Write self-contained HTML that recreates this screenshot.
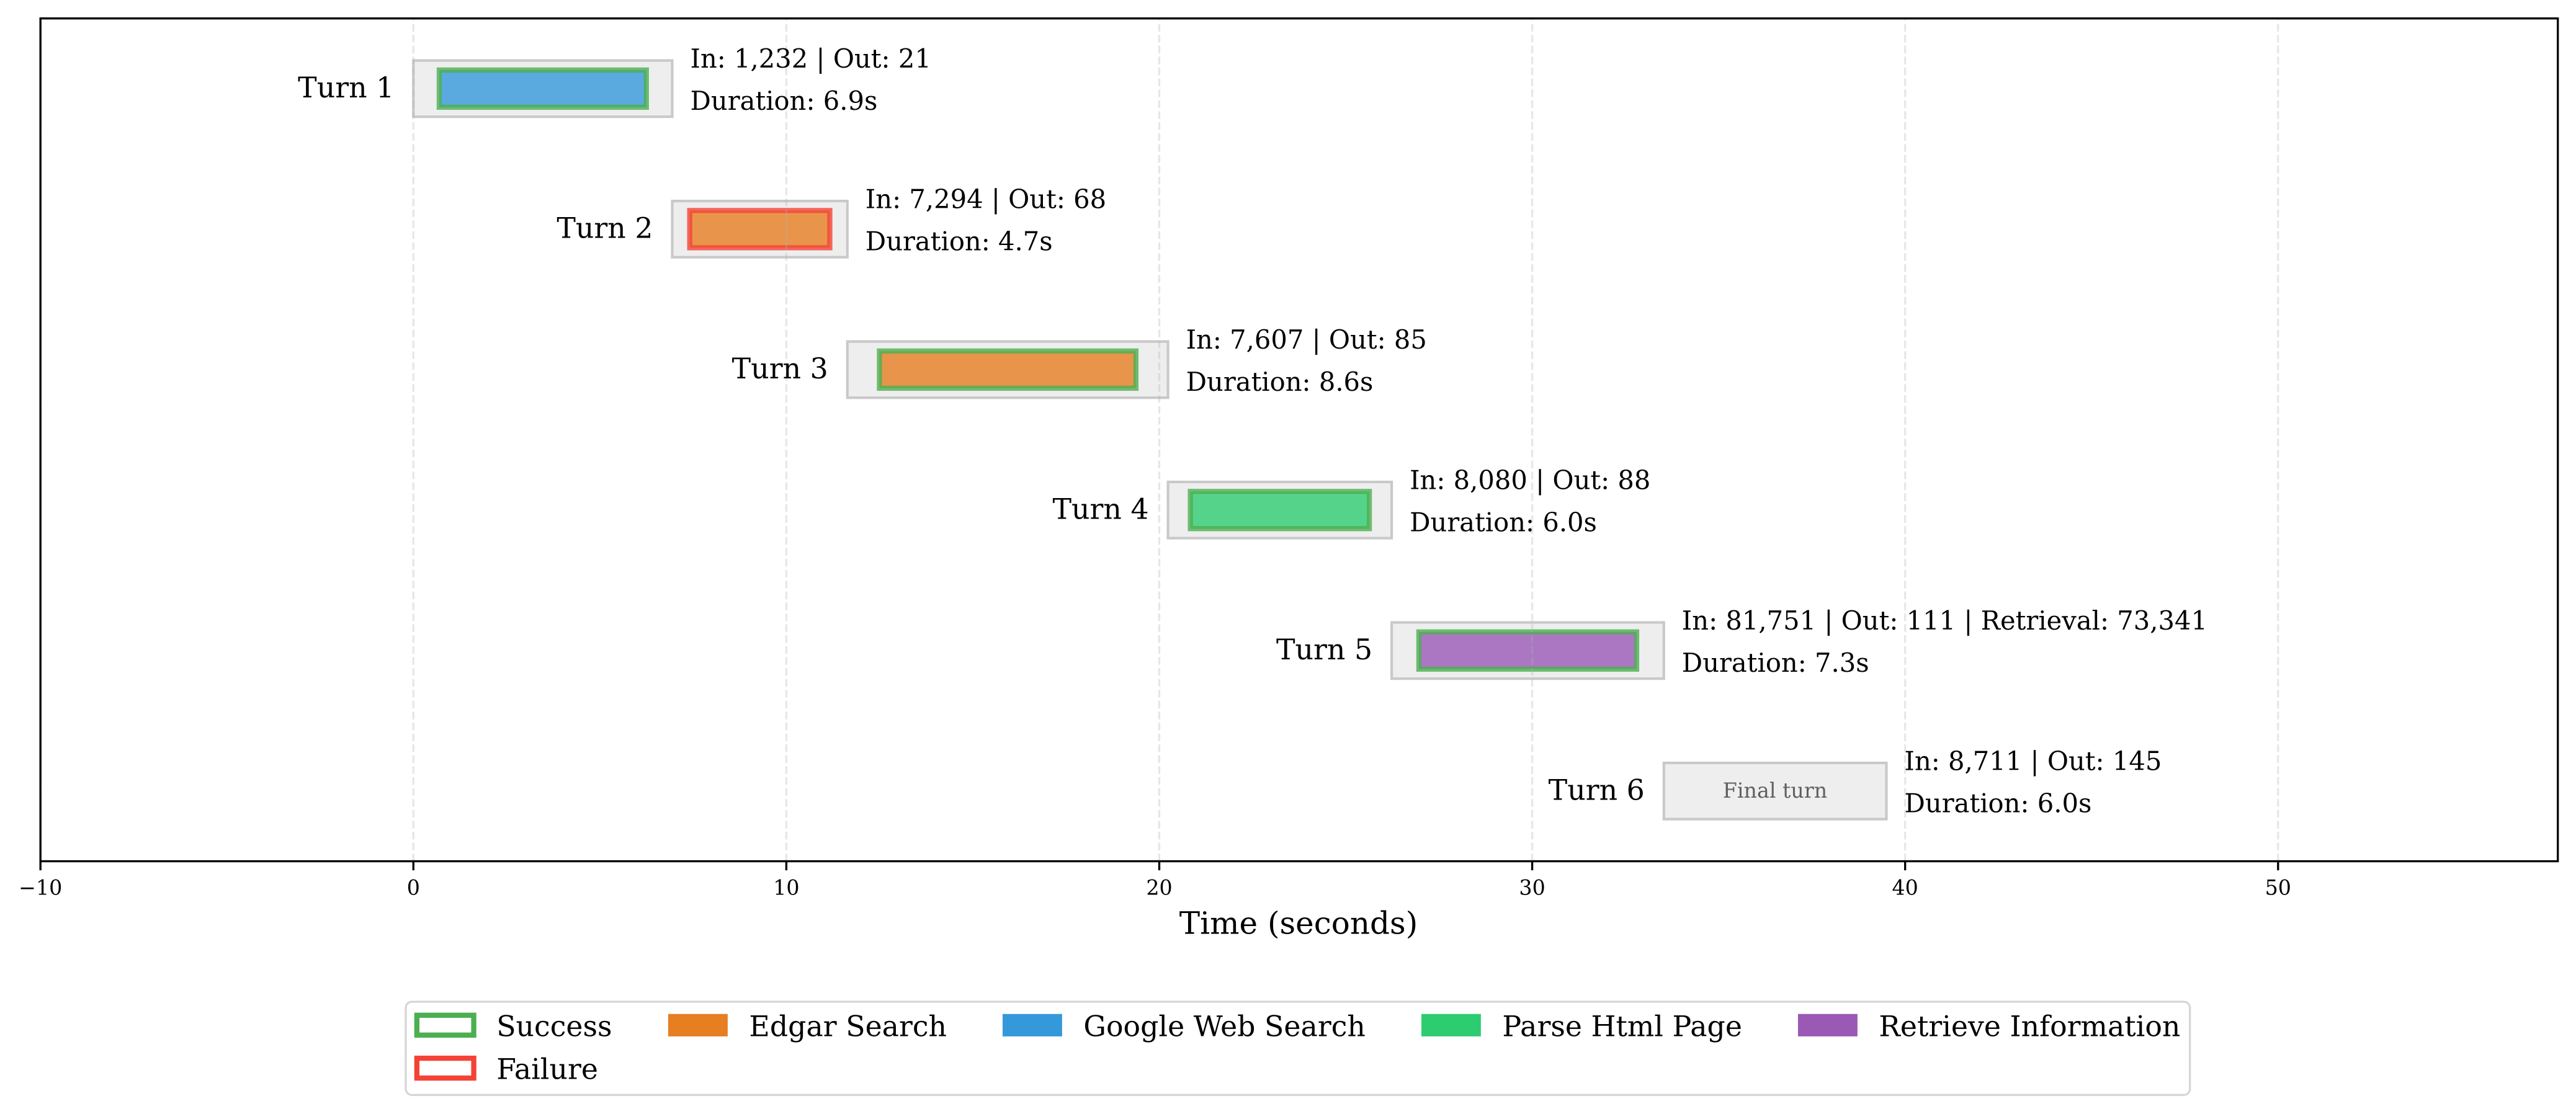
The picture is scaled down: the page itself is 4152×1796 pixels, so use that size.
<!DOCTYPE html>
<html>
<head>
<meta charset="utf-8">
<style>
  html, body { margin: 0; padding: 0; background: #ffffff; }
  svg { display: block; }
  text { font-family: "DejaVu Serif", "Liberation Serif", serif; }
</style>
</head>
<body>
<svg xmlns="http://www.w3.org/2000/svg" width="4152" height="1796" viewBox="0 0 4152 1796">
  <rect x="0" y="0" width="4152" height="1796" fill="#ffffff"/>

  <!-- Turn boxes -->
  <g stroke="#c9c9c9" stroke-width="4.17" fill="#eeeeee">
    <rect x="666.3" y="97.6" width="417.2" height="90.6"/>
    <rect x="1083.5" y="324.1" width="282.3" height="90.6"/>
    <rect x="1365.8" y="550.6" width="516.8" height="90.6"/>
    <rect x="1882.6" y="777.0" width="360.5" height="90.6"/>
    <rect x="2243.1" y="1003.5" width="438.7" height="90.6"/>
    <rect x="2681.8" y="1230.0" width="358.7" height="90.6"/>
  </g>

  <!-- Tool call bars -->
  <g stroke-width="8.33" fill-opacity="0.8" stroke-opacity="0.8">
    <rect x="708.0" y="112.9" width="333.8" height="60" fill="#3498db" stroke="#4caf50"/>
    <rect x="1111.7" y="339.4" width="225.8" height="60" fill="#e67e22" stroke="#f44336"/>
    <rect x="1417.5" y="565.9" width="413.4" height="60" fill="#e67e22" stroke="#4caf50"/>
    <rect x="1918.65" y="792.3" width="288.4" height="60" fill="#2ecc71" stroke="#4caf50"/>
    <rect x="2286.97" y="1018.8" width="350.96" height="60" fill="#9b59b6" stroke="#4caf50"/>
  </g>

  <text x="2861" y="1286" font-size="33.3" fill="#5f5f5f" text-anchor="middle">Final turn</text>

  <!-- Grid (on top) -->
  <g stroke="#b0b0b0" stroke-opacity="0.3" stroke-width="3.33" stroke-dasharray="12.3 5.3">
    <line x1="65.2" y1="1388.5" x2="65.2" y2="29.7"/>
    <line x1="666.3" y1="1388.5" x2="666.3" y2="29.7"/>
    <line x1="1267.4" y1="1388.5" x2="1267.4" y2="29.7"/>
    <line x1="1868.5" y1="1388.5" x2="1868.5" y2="29.7"/>
    <line x1="2469.6" y1="1388.5" x2="2469.6" y2="29.7"/>
    <line x1="3070.7" y1="1388.5" x2="3070.7" y2="29.7"/>
    <line x1="3671.8" y1="1388.5" x2="3671.8" y2="29.7"/>
  </g>

  <!-- Turn labels -->
  <g font-size="45.8" fill="#000" text-anchor="end">
    <text x="635.3" y="156.9">Turn 1</text>
    <text x="1052.5" y="383.4">Turn 2</text>
    <text x="1334.8" y="609.9">Turn 3</text>
    <text x="1851.6" y="836.3">Turn 4</text>
    <text x="2212.1" y="1062.8">Turn 5</text>
    <text x="2650.8" y="1289.3">Turn 6</text>
  </g>

  <!-- Annotations -->
  <g font-size="41.67" fill="#000">
    <text x="1112.5" y="108.9">In: 1,232 | Out: 21</text>
    <text x="1112.5" y="176.9">Duration: 6.9s</text>
    <text x="1394.8" y="335.4">In: 7,294 | Out: 68</text>
    <text x="1394.8" y="403.4">Duration: 4.7s</text>
    <text x="1911.6" y="561.9">In: 7,607 | Out: 85</text>
    <text x="1911.6" y="629.9">Duration: 8.6s</text>
    <text x="2272.1" y="788.3">In: 8,080 | Out: 88</text>
    <text x="2272.1" y="856.3">Duration: 6.0s</text>
    <text x="2710.8" y="1014.8">In: 81,751 | Out: 111 | Retrieval: 73,341</text>
    <text x="2710.8" y="1082.8">Duration: 7.3s</text>
    <text x="3069.5" y="1241.3">In: 8,711 | Out: 145</text>
    <text x="3069.5" y="1309.3">Duration: 6.0s</text>
  </g>

  <!-- Spines -->
  <rect x="65.2" y="29.7" width="4057.5" height="1358.8" fill="none" stroke="#000" stroke-width="3.33"/>

  <!-- Ticks -->
  <g stroke="#000" stroke-width="3.33">
    <line x1="65.2" y1="1388.5" x2="65.2" y2="1403.1"/>
    <line x1="666.3" y1="1388.5" x2="666.3" y2="1403.1"/>
    <line x1="1267.4" y1="1388.5" x2="1267.4" y2="1403.1"/>
    <line x1="1868.5" y1="1388.5" x2="1868.5" y2="1403.1"/>
    <line x1="2469.6" y1="1388.5" x2="2469.6" y2="1403.1"/>
    <line x1="3070.7" y1="1388.5" x2="3070.7" y2="1403.1"/>
    <line x1="3671.8" y1="1388.5" x2="3671.8" y2="1403.1"/>
  </g>
  <g font-size="33.3" fill="#000" text-anchor="middle">
    <text x="65.2" y="1442.7">−10</text>
    <text x="666.3" y="1442.7">0</text>
    <text x="1267.4" y="1442.7">10</text>
    <text x="1868.5" y="1442.7">20</text>
    <text x="2469.6" y="1442.7">30</text>
    <text x="3070.7" y="1442.7">40</text>
    <text x="3671.8" y="1442.7">50</text>
  </g>

  <text x="2093" y="1505.7" font-size="50" fill="#000" text-anchor="middle">Time (seconds)</text>

  <!-- Legend -->
  <rect x="654" y="1615" width="2875.7" height="150.3" rx="10" ry="10" fill="#ffffff" stroke="#d6d6d6" stroke-width="3.33"/>
  <rect x="671.9" y="1636.8" width="91.7" height="32" fill="none" stroke="#4caf50" stroke-width="8.33"/>
  <rect x="671.9" y="1706.1" width="91.7" height="32" fill="none" stroke="#f44336" stroke-width="8.33"/>
  <rect x="1079.1" y="1636.8" width="91.7" height="32" fill="#e67e22" stroke="#e67e22" stroke-width="4.17"/>
  <rect x="1618.1" y="1636.8" width="91.7" height="32" fill="#3498db" stroke="#3498db" stroke-width="4.17"/>
  <rect x="2293.1" y="1636.8" width="91.7" height="32" fill="#2ecc71" stroke="#2ecc71" stroke-width="4.17"/>
  <rect x="2900.1" y="1636.8" width="91.7" height="32" fill="#9b59b6" stroke="#9b59b6" stroke-width="4.17"/>
  <g font-size="45.8" fill="#000">
    <text x="800.2" y="1670.7">Success</text>
    <text x="800.2" y="1739.3">Failure</text>
    <text x="1207.4" y="1670.7">Edgar Search</text>
    <text x="1746.4" y="1670.7">Google Web Search</text>
    <text x="2421.4" y="1670.7">Parse Html Page</text>
    <text x="3028.4" y="1670.7">Retrieve Information</text>
  </g>
</svg>
</body>
</html>
